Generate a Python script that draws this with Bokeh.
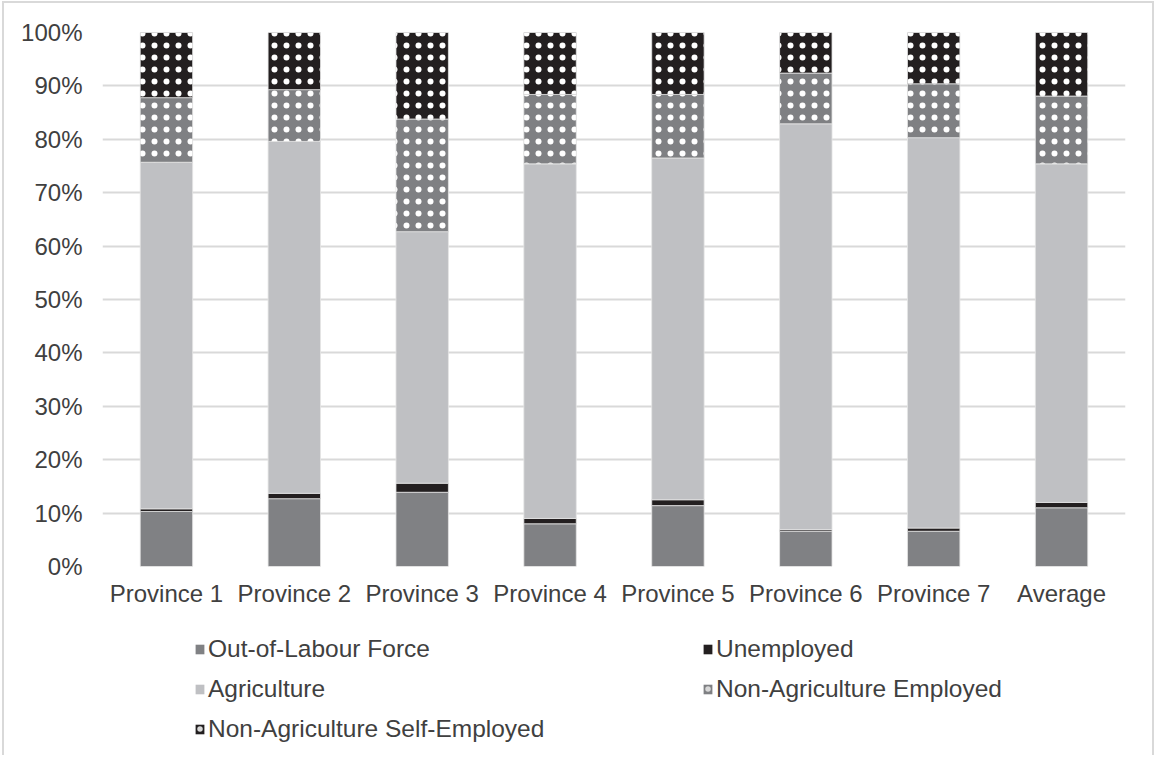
from bokeh.plotting import figure
from bokeh.layouts import column
from bokeh.models import (ColumnDataSource, FactorRange, Legend, LegendItem,
                          NumeralTickFormatter, FixedTicker, Range1d)
from bokeh.embed import file_html
from bokeh.resources import INLINE

categories = ["Province 1", "Province 2", "Province 3", "Province 4",
              "Province 5", "Province 6", "Province 7", "Average"]
out_of_labour = [10.3, 12.7, 13.9, 8.0, 11.4, 6.6, 6.6, 11.0]
unemployed = [0.5, 1.0, 1.7, 1.0, 1.1, 0.3, 0.6, 1.0]
agriculture = [64.9, 65.9, 47.1, 66.4, 64.0, 76.0, 73.1, 63.4]
non_ag_employed = [12.1, 9.7, 21.1, 13.0, 11.9, 9.5, 10.1, 12.7]
non_ag_self_employed = [12.2, 10.7, 16.2, 11.6, 11.6, 7.6, 9.6, 11.9]

series_names = ["Out-of-Labour Force", "Unemployed", "Agriculture",
                "Non-Agriculture Employed", "Non-Agriculture Self-Employed"]
series_keys = ["olf", "unemp", "agri", "nae", "nase"]
series_vals = [out_of_labour, unemployed, agriculture, non_ag_employed,
               non_ag_self_employed]
colors = ["#808184", "#231f20", "#bfc0c3", "#7f8083", "#231f20"]
hatched = [False, False, False, True, True]

data = {"cat": categories}
for k, v in zip(series_keys, series_vals):
    data[k] = [x / 100.0 for x in v]
source = ColumnDataSource(data)

FONT = "Liberation Sans"
TXT = "#404040"

# ---- main chart ----
p = figure(x_range=FactorRange(*categories, range_padding=0),
           y_range=(0, 1), width=1148, height=607,
           output_backend="svg", toolbar_location=None,
           min_border_left=98, min_border_right=27,
           min_border_top=29, min_border_bottom=44)
p.x_range.factor_padding = 0
p.outline_line_color = None

renderers = p.vbar_stack(series_keys, x="cat", width=0.41, source=source,
                         color=colors, line_color="#e4e4e4", line_width=0.8)

def hatch(glyph):
    glyph.hatch_pattern = "dot"
    glyph.hatch_color = "white"
    glyph.hatch_scale = 12
    glyph.hatch_weight = 1.4

for r, h in zip(renderers, hatched):
    if h:
        hatch(r.glyph)

p.yaxis.ticker = FixedTicker(ticks=[i / 10 for i in range(11)])
p.yaxis.formatter = NumeralTickFormatter(format="0%")
for ax in (p.xaxis, p.yaxis):
    ax.axis_line_color = None
    ax.major_tick_line_color = None
    ax.minor_tick_line_color = None
    ax.major_tick_out = 0
    ax.major_tick_in = 0
    ax.major_label_text_font = FONT
    ax.major_label_text_font_size = "24px"
    ax.major_label_text_color = TXT
p.yaxis.major_label_standoff = 20
p.xaxis.major_label_standoff = 13

p.xgrid.grid_line_color = None
p.ygrid.grid_line_color = "#d9d9d9"
p.ygrid.grid_line_width = 2

# ---- legend panel (frame is aligned with the chart frame by the column) ----
LH = 145
lf = figure(width=1148, height=LH, x_range=Range1d(0, 1), y_range=Range1d(0, 1),
            output_backend="svg", toolbar_location=None,
            x_axis_type=None, y_axis_type=None,
            min_border_left=0, min_border_right=0,
            min_border_top=0, min_border_bottom=0)
lf.outline_line_color = None
lf.xgrid.visible = False
lf.ygrid.visible = False

# zero-size swatch renderers, only used to draw the legend glyphs
swatch_src = ColumnDataSource(dict(x=[0.0], y=[0.0]))
swatches = []
for c, h in zip(colors, hatched):
    r = lf.vbar(x="x", top="y", bottom="y", width=0, source=swatch_src,
                fill_color=c, line_color=None)
    if h:
        hatch(r.glyph)
        r.glyph.hatch_scale = 11
        r.glyph.hatch_weight = 1.1
        r.glyph.hatch_color = "#d8d8d8"
    swatches.append(r)

def make_legend(idx, loc):
    items = [LegendItem(label=series_names[i], renderers=[swatches[i]]) for i in idx]
    return Legend(items=items, location=loc, orientation="vertical",
                  glyph_width=11, glyph_height=12, label_standoff=3,
                  label_height=28, spacing=12, padding=0, margin=0,
                  label_text_font=FONT, label_text_font_size="24.5px",
                  label_text_color=TXT, border_line_color=None,
                  background_fill_alpha=0)

lf.add_layout(make_legend([0, 2, 4], (92, LH - 25 - 108)), "center")
lf.add_layout(make_legend([1, 3], (600, LH - 25 - 68)), "center")

layout = column(p, lf, spacing=0,
                styles={"margin-left": "2px", "margin-top": "1px",
                        "border-left": "2px solid #d9d9d9",
                        "border-top": "2px solid #d9d9d9",
                        "border-right": "2px solid #d9d9d9"})

open("out.html", "w").write(file_html(layout, INLINE))
